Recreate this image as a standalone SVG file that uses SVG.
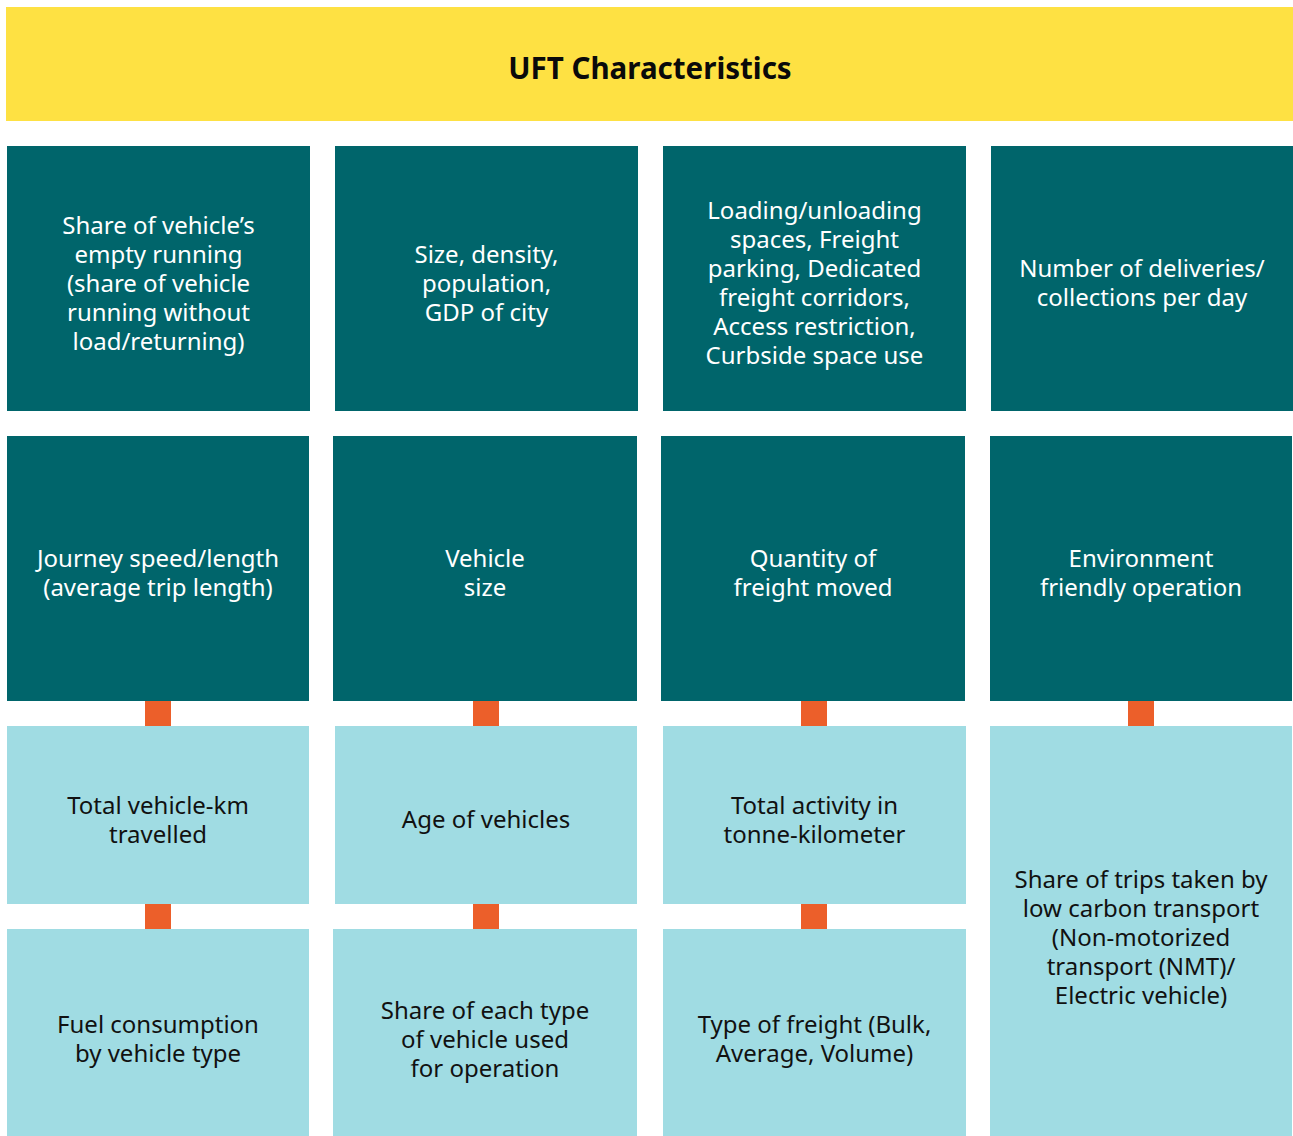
<svg xmlns="http://www.w3.org/2000/svg" width="1293" height="1136" viewBox="0 0 1293 1136">
<style>
.hdr{fill:#FEE143}
.dk{fill:#00656B}
.lt{fill:#A0DCE3}
.con{fill:#EC5F2A}
text{font-family:"Noto Sans","Open Sans","DejaVu Sans",sans-serif;font-size:24px;text-anchor:middle}
.w{fill:#FFFFFF}
.b{fill:#111111}
.title{font-size:29.5px;font-weight:bold;fill:#0a0a0a}
</style>
<rect x="0" y="0" width="1293" height="1136" fill="#FFFFFF"/>
<g id="header">
<rect class="hdr" x="6" y="7" width="1287" height="114"/>
<text class="title" x="650" y="79">UFT Characteristics</text>
</g>
<g id="connectors">
<rect class="con" x="145" y="701" width="26" height="25"/>
<rect class="con" x="473" y="701" width="26" height="25"/>
<rect class="con" x="801" y="701" width="26" height="25"/>
<rect class="con" x="1128" y="701" width="26" height="25"/>
<rect class="con" x="145" y="904" width="26" height="25"/>
<rect class="con" x="473" y="904" width="26" height="25"/>
<rect class="con" x="801" y="904" width="26" height="25"/>
</g>
<g id="n-empty-running">
<rect class="dk" x="7" y="146" width="303" height="265"/>
<text class="w" y="233.5"><tspan x="158.5">Share of vehicle’s</tspan><tspan x="158.5" dy="29">empty running</tspan><tspan x="158.5" dy="29">(share of vehicle</tspan><tspan x="158.5" dy="29">running without</tspan><tspan x="158.5" dy="29">load/returning)</tspan></text>
</g>
<g id="n-city">
<rect class="dk" x="335" y="146" width="303" height="265"/>
<text class="w" y="262.5"><tspan x="486.5">Size, density,</tspan><tspan x="486.5" dy="29">population,</tspan><tspan x="486.5" dy="29">GDP of city</tspan></text>
</g>
<g id="n-loading">
<rect class="dk" x="663" y="146" width="303" height="265"/>
<text class="w" y="219"><tspan x="814.5">Loading/unloading</tspan><tspan x="814.5" dy="29">spaces, Freight</tspan><tspan x="814.5" dy="29">parking, Dedicated</tspan><tspan x="814.5" dy="29">freight corridors,</tspan><tspan x="814.5" dy="29">Access restriction,</tspan><tspan x="814.5" dy="29">Curbside space use</tspan></text>
</g>
<g id="n-deliveries">
<rect class="dk" x="991" y="146" width="302" height="265"/>
<text class="w" y="277"><tspan x="1142">Number of deliveries/</tspan><tspan x="1142" dy="29">collections per day</tspan></text>
</g>
<g id="n-journey">
<rect class="dk" x="7" y="436" width="302" height="265"/>
<text class="w" y="567"><tspan x="158">Journey speed/length</tspan><tspan x="158" dy="29">(average trip length)</tspan></text>
</g>
<g id="n-vehicle-size">
<rect class="dk" x="333" y="436" width="304" height="265"/>
<text class="w" y="567"><tspan x="485">Vehicle</tspan><tspan x="485" dy="29">size</tspan></text>
</g>
<g id="n-quantity">
<rect class="dk" x="661" y="436" width="304" height="265"/>
<text class="w" y="567"><tspan x="813">Quantity of</tspan><tspan x="813" dy="29">freight moved</tspan></text>
</g>
<g id="n-environment">
<rect class="dk" x="990" y="436" width="302" height="265"/>
<text class="w" y="567"><tspan x="1141">Environment</tspan><tspan x="1141" dy="29">friendly operation</tspan></text>
</g>
<g id="n-vehicle-km">
<rect class="lt" x="7" y="726" width="302" height="178"/>
<text class="b" y="813.5"><tspan x="158">Total vehicle-km</tspan><tspan x="158" dy="29">travelled</tspan></text>
</g>
<g id="n-age">
<rect class="lt" x="335" y="726" width="302" height="178"/>
<text class="b" x="486" y="828">Age of vehicles</text>
</g>
<g id="n-activity">
<rect class="lt" x="663" y="726" width="303" height="178"/>
<text class="b" y="813.5"><tspan x="814.5">Total activity in</tspan><tspan x="814.5" dy="29">tonne-kilometer</tspan></text>
</g>
<g id="n-low-carbon">
<rect class="lt" x="990" y="726" width="302" height="410"/>
<text class="b" y="888"><tspan x="1141">Share of trips taken by</tspan><tspan x="1141" dy="29">low carbon transport</tspan><tspan x="1141" dy="29">(Non-motorized</tspan><tspan x="1141" dy="29">transport (NMT)/</tspan><tspan x="1141" dy="29">Electric vehicle)</tspan></text>
</g>
<g id="n-fuel">
<rect class="lt" x="7" y="929" width="302" height="207"/>
<text class="b" y="1033"><tspan x="158">Fuel consumption</tspan><tspan x="158" dy="29">by vehicle type</tspan></text>
</g>
<g id="n-share-type">
<rect class="lt" x="333" y="929" width="304" height="207"/>
<text class="b" y="1019"><tspan x="485">Share of each type</tspan><tspan x="485" dy="29">of vehicle used</tspan><tspan x="485" dy="29">for operation</tspan></text>
</g>
<g id="n-freight-type">
<rect class="lt" x="663" y="929" width="303" height="207"/>
<text class="b" y="1033"><tspan x="814.5">Type of freight (Bulk,</tspan><tspan x="814.5" dy="29">Average, Volume)</tspan></text>
</g>
</svg>
